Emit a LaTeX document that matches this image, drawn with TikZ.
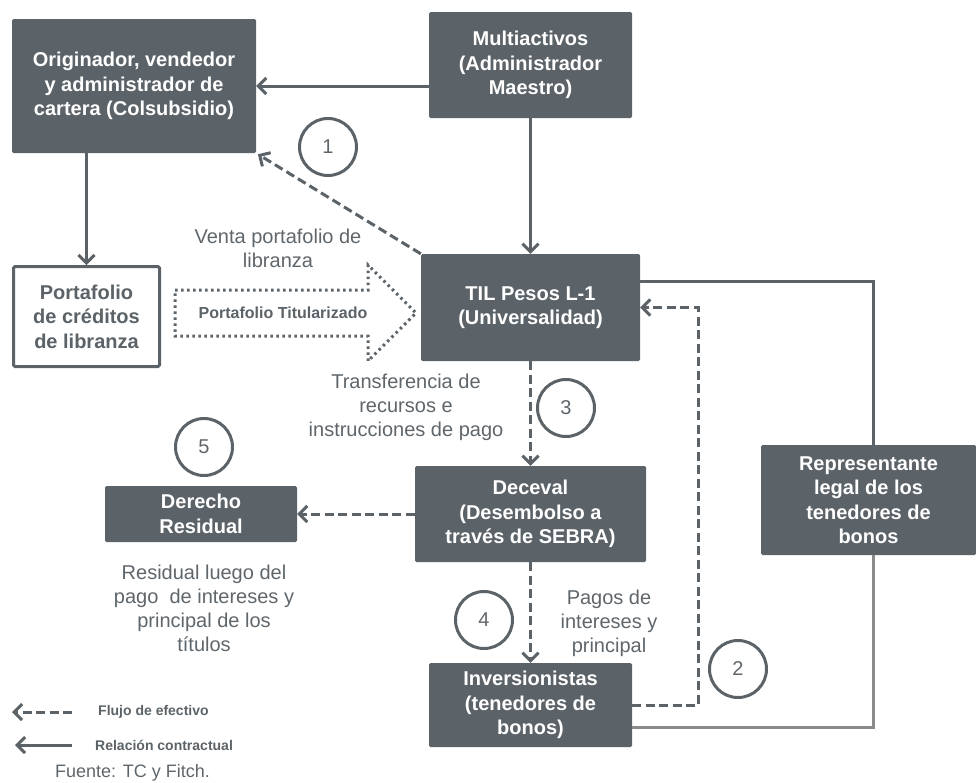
\documentclass[tikz,border=0pt]{standalone}
\usepackage{fontspec}
\setmainfont{Liberation Sans}
\usetikzlibrary{arrows.meta,calc}
\definecolor{boxc}{HTML}{5B6368}
\definecolor{txtc}{HTML}{5F666B}
\definecolor{lgray}{HTML}{8A8A8A}
\begin{document}
\begin{tikzpicture}[x=1pt,y=-1pt,
  tipb/.tip={Straight Barb[length=8pt,width=16pt]},
  darkbox/.style={fill=boxc, text=white, font=\bfseries\fontsize{20}{24.5}\selectfont, align=center, rounded corners=1.5pt, inner sep=0pt},
  whitebox/.style={fill=white, draw=boxc, line width=3pt, text=boxc, font=\bfseries\fontsize{20}{24.5}\selectfont, align=center, rounded corners=1.5pt, inner sep=0pt},
  lbl/.style={text=txtc, font=\fontsize{20}{24}\selectfont, align=center, inner sep=0pt},
  num/.style={circle, draw=boxc, line width=3pt, minimum size=57pt, text=txtc, font=\fontsize{20}{24}\selectfont, inner sep=0pt},
  solidarrow/.style={draw=boxc, line width=3pt, -tipb},
  dasharrow/.style={draw=boxc, line width=3pt, dash pattern=on 9pt off 4.5pt, -tipb},
  solidline/.style={draw=boxc, line width=3pt},
  greyline/.style={draw=lgray, line width=3pt},
  dotline/.style={draw=boxc, line width=3pt, dash pattern=on 2.5pt off 3.5pt},
  legtxt/.style={text=boxc, font=\bfseries\fontsize{14}{16}\selectfont, anchor=west, inner sep=0pt}
]
\useasboundingbox (0,0) rectangle (976,782);

% boxes
\node[darkbox, minimum width=244pt, minimum height=134pt] (orig) at (134,86) {Originador, vendedor\\y administrador de\\cartera (Colsubsidio)};
\node[darkbox, minimum width=203pt, minimum height=106pt] (multi) at (530.5,65) {Multiactivos\\(Administrador\\Maestro)};
\node[darkbox, minimum width=219pt, minimum height=107pt] (til) at (530.5,307.5) {TIL Pesos L-1\\(Universalidad)};
\node[whitebox, minimum width=146pt, minimum height=100pt] (port) at (86.5,316.5) {Portafolio\\de créditos\\de libranza};
\node[darkbox, minimum width=231pt, minimum height=96pt] (dec) at (530.5,514) {Deceval\\(Desembolso a\\través de SEBRA)};
\node[darkbox, minimum width=192pt, minimum height=56pt] (der) at (201,514) {Derecho\\Residual};
\node[darkbox, minimum width=203pt, minimum height=84pt] (inv) at (530.5,705) {Inversionistas\\(tenedores de\\bonos)};
\node[darkbox, minimum width=215pt, minimum height=110pt] (rep) at (868.5,500) {Representante\\legal de los\\tenedores de\\bonos};

% circles
\node[num] (c1) at (328,147) {1};
\node[num] (c2) at (738,669) {2};
\node[num] (c3) at (566,408) {3};
\node[num] (c4) at (484,620) {4};
\node[num] (c5) at (204,447) {5};

% labels
\node[lbl] (lventa) at (278,248) {Venta portafolio de\\libranza};
\node[lbl] (ltrans) at (406,407) {Transferencia de\\recursos e\\instrucciones de pago};
\node[lbl] (lpagos) at (609,623) {Pagos de\\intereses y\\principal};
\node[lbl] (lresid) at (204,608) {Residual luego del\\pago\ \ de intereses y\\principal de los\\títulos};

% big dotted arrow
\draw[dotline] (175,290) -- (368,290) -- (368,265) -- (416,313) -- (368,361) -- (368,336) -- (175,336) -- cycle;
\node[text=boxc, font=\bfseries\fontsize{16}{18}\selectfont, inner sep=0pt] (ptit) at (283,313) {Portafolio Titularizado};

% connectors
\draw[solidarrow] (multi.west |- orig.east) -- (orig.east);
\draw[solidarrow] (multi.south) -- (til.north);
\draw[solidarrow] (orig.south -| port.north) -- (port.north);
\draw[dasharrow, shorten >=2pt] (til.north west) -- (orig.south east);
\draw[dasharrow] (til.south) -- (dec.north);
\draw[dasharrow] (dec.west) -- (der.east);
\draw[dasharrow] (dec.south) -- (inv.north);
\coordinate (bend2) at ($(inv.east)+(66,0)$);
\draw[dasharrow] (inv.east) -- (bend2) |- (til.east);
\coordinate (tilr) at ($(til.north east)+(0,28)$);
\draw[solidline] (tilr) -| ($(rep.north)+(4.5,0)$);
\coordinate (invr) at ($(inv.east)+(0,22)$);
\draw[greyline] ($(rep.south)+(4.5,0)$) |- (invr);

% legend
\node[legtxt] (lflujo) at (98,712) {Flujo de efectivo};
\node[legtxt] (lrel) at (95,745) {Relación contractual};
\coordinate (lf1) at (72,712);
\coordinate (lf2) at (12,712);
\coordinate (lr1) at (72,745);
\coordinate (lr2) at (15,745);
\draw[dasharrow] (lf1) -- (lf2);
\draw[solidarrow] (lr1) -- (lr2);
\node[text=txtc, font=\fontsize{18}{20}\selectfont, anchor=west, inner sep=0pt] (fuente) at (55,773) {Fuente: TC y Fitch.};
\end{tikzpicture}
\end{document}
